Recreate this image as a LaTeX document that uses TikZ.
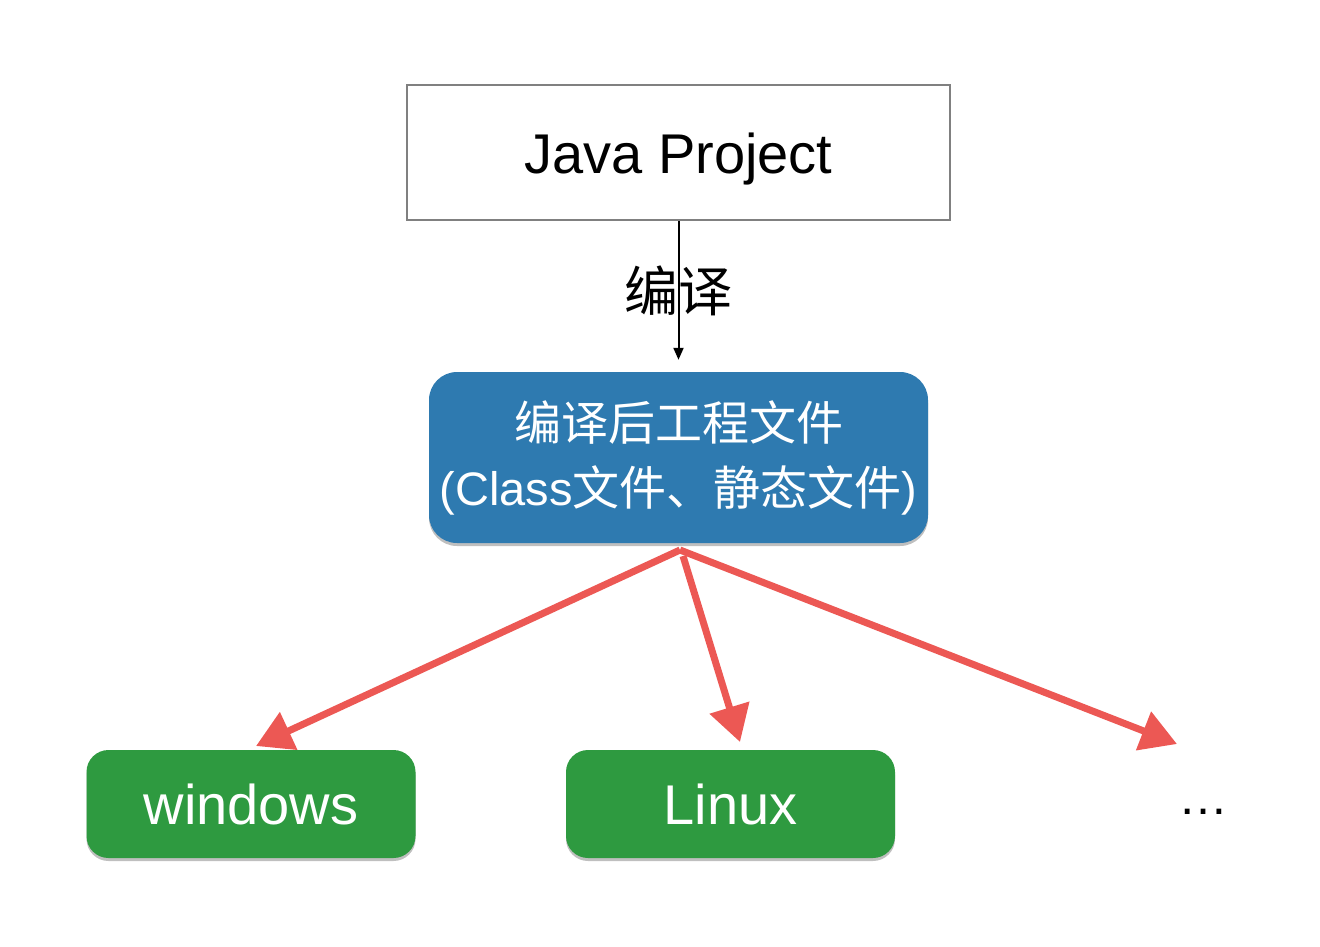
\documentclass[tikz,border=0pt]{standalone}
\usepackage{fontspec}
\setmainfont{Liberation Sans}
\newfontfamily\cjk{Noto Sans CJK SC}
\usetikzlibrary{arrows.meta,shadows}
\definecolor{boxgray}{RGB}{128,128,128}
\definecolor{bluebox}{RGB}{46,122,176}
\definecolor{greenbox}{RGB}{46,154,64}
\definecolor{redarrow}{RGB}{236,88,84}
\tikzset{
  plainbox/.style={draw=boxgray,line width=2pt,fill=white,minimum width=543pt,minimum height=135pt,inner sep=0pt},
  bluestyle/.style={fill=bluebox,rounded corners=28pt,minimum width=499pt,minimum height=171pt,inner sep=0pt,text=white,align=center,
    font=\fontsize{47}{66}\selectfont,
    drop shadow={shadow xshift=0pt,shadow yshift=-3pt,opacity=0.25,fill=black}},
  greenstyle/.style={fill=greenbox,rounded corners=22pt,minimum width=329pt,minimum height=108pt,inner sep=0pt,text=white,
    font=\fontsize{56}{60}\selectfont,
    drop shadow={shadow xshift=0pt,shadow yshift=-3pt,opacity=0.25,fill=black}},
  redarr/.style={draw=redarrow,line width=7pt,-{Triangle[length=36pt,width=40pt]}},
  blackarr/.style={draw=black,line width=2pt,-{Triangle[length=12pt,width=10pt]}}
}
\begin{document}
\begin{tikzpicture}[x=1pt,y=-1pt]
\useasboundingbox (0,0) rectangle (1320,946);
\node[plainbox] (java) at (678.5,152.5) {\fontsize{56}{60}\selectfont\raisebox{-21pt}[0pt][0pt]{Java Project}};
\node[bluestyle] (blue) at (678.5,457.5) {\raisebox{-5pt}{\cjk 编译后工程文件}\\\raisebox{-4pt}{(Class{\cjk 文件、静态文件})}};
\node[greenstyle] (win) at (251,804) {windows};
\node[greenstyle] (linux) at (730.5,804) {Linux};
\node (dots) at (1203,812) {\fontsize{50}{60}\selectfont \dots};
\draw[blackarr] (java.south) -- node[font=\cjk\fontsize{54}{60}\selectfont,inner sep=0pt] (lbl) {编译} ([yshift=12pt]blue.north);
\coordinate (src) at (680,550);
\coordinate (srcm) at (683,556);
\coordinate (tipL) at (256,746);
\coordinate (tipM) at (740,742);
\coordinate (tipR) at (1177,744);
\draw[redarr] (src) -- (tipL);
\draw[redarr] (srcm) -- (tipM);
\draw[redarr] (src) -- (tipR);
\end{tikzpicture}
\end{document}
